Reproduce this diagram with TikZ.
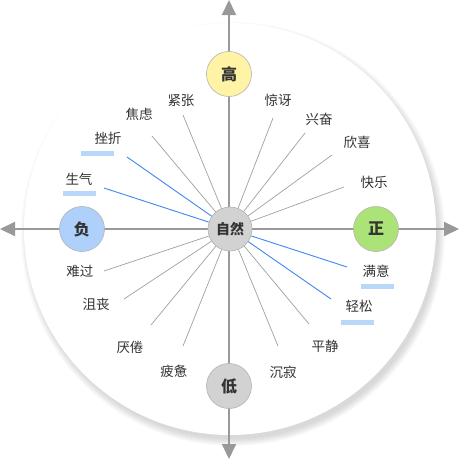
\documentclass[tikz,border=0pt]{standalone}
\usepackage{fontspec}
\setmainfont{Noto Sans CJK SC}
\usetikzlibrary{arrows.meta}
\definecolor{axisgray}{HTML}{999999}
\definecolor{linegray}{HTML}{A0A0A0}
\definecolor{lineblue}{HTML}{3F88F2}
\definecolor{barblue}{HTML}{B9D7F9}
\definecolor{txt}{HTML}{333333}
\definecolor{hiyellow}{HTML}{FFF3A6}
\definecolor{negblue}{HTML}{AFD0FB}
\definecolor{posgreen}{HTML}{ABE379}
\definecolor{lowgray}{HTML}{D2D2D2}
\begin{document}
\begin{tikzpicture}[x=1pt,y=-1pt,
  axis/.style={draw=axisgray,line width=2pt,{Triangle[length=15pt,width=14pt]}-{Triangle[length=15pt,width=14pt]}},
  pole/.style={circle,draw=black!30,line width=0.6pt,minimum size=45pt,inner sep=0pt,text=txt,font=\fontsize{16}{18}\selectfont\bfseries},
  lbl/.style={text=txt,inner sep=0pt,font=\fontsize{13.5}{15}\selectfont},
  ray/.style={draw=linegray,line width=0.7pt},
  hot/.style={draw=lineblue,line width=0.9pt},
  bar/.style={fill=barblue,minimum width=33pt,minimum height=5pt,inner sep=0pt}]
\useasboundingbox (0,0) rectangle (459,459);
% disc with soft shadow
\foreach \k in {1,...,8}
  \fill[black,opacity=0.02] (233,234) circle ({204+\k});
\fill[white] (230,229) circle (206);
% axes
\coordinate (xl) at (0,229);
\coordinate (xr) at (459,229);
\coordinate (yt) at (229,0);
\coordinate (yb) at (229,459);
\draw[axis] (xl) -- (xr);
\draw[axis] (yb) -- (yt);
% poles
\node[pole,fill=hiyellow] (hi) at (229,74){高};
\node[pole,fill=lowgray] (lo) at (229,386){低};
\node[pole,fill=negblue] (neg) at (82,229){负};
\node[pole,fill=posgreen] (pos) at (376,229){正};
\node[pole,fill=lowgray,minimum size=44pt,font=\fontsize{14}{16}\selectfont\bfseries] (zr) at (230,229){自然};
% upper left
\coordinate (e1) at (183,115); \node[lbl] (l1) at (181,101){紧张};
\coordinate (e2) at (152,136); \node[lbl] (l2) at (139,114){焦虑};
\coordinate (e3) at (127,157); \node[lbl] (l3) at (108,138){挫折};
\coordinate (e4) at (104,188); \node[lbl] (l4) at (79,179){生气};
\node[bar] (b3) at (97.5,153){};
\node[bar] (b4) at (79.5,193){};
\draw[ray] (zr) -- (e1);
\draw[ray] (zr) -- (e2);
\draw[hot] (zr) -- (e3);
\draw[hot] (zr) -- (e4);
% upper right
\coordinate (e5) at (273,118); \node[lbl] (l5) at (278,100){惊讶};
\coordinate (e6) at (305,133); \node[lbl] (l6) at (319,119){兴奋};
\coordinate (e7) at (332,155); \node[lbl] (l7) at (357,142){欣喜};
\coordinate (e8) at (344,187); \node[lbl] (l8) at (374,182){快乐};
\draw[ray] (zr) -- (e5);
\draw[ray] (zr) -- (e6);
\draw[ray] (zr) -- (e7);
\draw[ray] (zr) -- (e8);
% lower left
\coordinate (e9) at (104,271); \node[lbl] (l9) at (80,271){难过};
\coordinate (e10) at (124,299); \node[lbl] (l10) at (96,304){沮丧};
\coordinate (e11) at (151,325); \node[lbl] (l11) at (130,347){厌倦};
\coordinate (e12) at (183,346); \node[lbl] (l12) at (174,371){疲惫};
\draw[ray] (zr) -- (e9);
\draw[ray] (zr) -- (e10);
\draw[ray] (zr) -- (e11);
\draw[ray] (zr) -- (e12);
% lower right
\coordinate (e13) at (347,267); \node[lbl] (l13) at (376,271){满意};
\coordinate (e14) at (331,299); \node[lbl] (l14) at (359,306){轻松};
\coordinate (e15) at (309,324); \node[lbl] (l15) at (325,346){平静};
\coordinate (e16) at (278,346); \node[lbl] (l16) at (283,372){沉寂};
\node[bar] (b13) at (377.5,286){};
\node[bar] (b14) at (357.5,322){};
\draw[hot] (zr) -- (e13);
\draw[hot] (zr) -- (e14);
\draw[ray] (zr) -- (e15);
\draw[ray] (zr) -- (e16);
\end{tikzpicture}
\end{document}
